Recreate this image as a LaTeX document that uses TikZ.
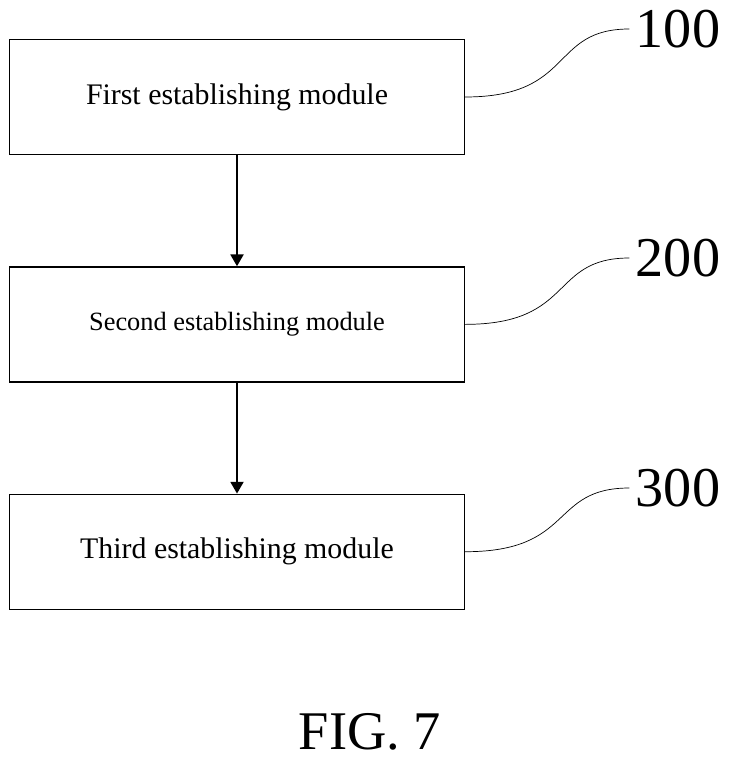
\documentclass[tikz,border=0pt]{standalone}
\usepackage{fontspec}
\setmainfont{Liberation Serif}
\usetikzlibrary{arrows,positioning}

\begin{document}
\begin{tikzpicture}[->,>=triangle 60,thick,node distance=2.22cm,
  x=0.02cm,y=-0.02cm,
  module node/.style={rectangle,draw,fill=white,minimum width=9.1cm,minimum height=2.3cm,
    font=\fontsize{17}{20}\selectfont},
  ref label/.style={font=\fontsize{32}{36}\selectfont},
  lead/.style={-,thin}]
  \useasboundingbox (0,0) rectangle (733,763);
  \node[module node] (1) at (237,97) {First establishing module};
  \node[module node] (2) [below=of 1] {\fontsize{15}{18}\selectfont Second establishing module};
  \node[module node] (3) [below=of 2] {Third establishing module};
  \node[ref label] (l1) at (678,29) {100};
  \node[ref label] (l2) at (678,258) {200};
  \node[ref label] (l3) at (678,488) {300};
  \node[font=\fontsize{31}{36}\selectfont] (fig) at (370,732) {FIG. 7};

  \path
    (1) edge (2)
    (2) edge (3);
  \draw[lead] (1.east) .. controls +(2.2cm,0) and +(-1.6cm,0) .. (l1.west);
  \draw[lead] (2.east) .. controls +(2.2cm,0) and +(-1.6cm,0) .. (l2.west);
  \draw[lead] (3.east) .. controls +(2.2cm,0) and +(-1.6cm,0) .. (l3.west);
\end{tikzpicture}
\end{document}
